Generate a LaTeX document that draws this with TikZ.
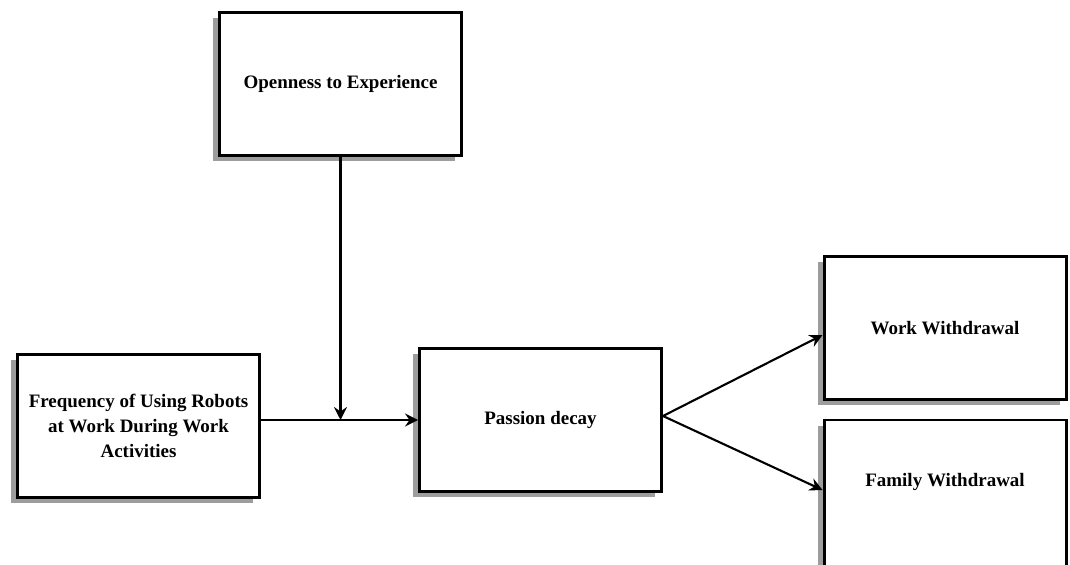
\documentclass[tikz,border=0pt]{standalone}
\usepackage{fontspec}
\setmainfont{Liberation Serif}
\usepackage{tikz}
\usetikzlibrary{arrows.meta,positioning,shadows}
\tikzset{
  varbox/.style={draw=black, fill=white, line width=1.7pt,
        minimum width=4.84cm, minimum height=2.86cm, align=center,
        font=\fontsize{10.8}{14}\selectfont\bfseries,
        drop shadow={shadow xshift=-0.13cm, shadow yshift=-0.11cm,
                     fill=black!55, opacity=0.7}},
  link/.style={-{Stealth[length=2.6mm, width=2.6mm, inset=0.9mm]},
        line width=1.2pt, draw=black}
}
\begin{document}
\begin{tikzpicture}
\useasboundingbox (0,0) rectangle (21.4,11.28);

\node[varbox] (open) at (6.81,9.60) {Openness to Experience};
\node[varbox] (freq) at (2.77,2.76) {Frequency of Using Robots\\ at Work During Work\\ Activities};
\node[varbox] (decay) at (10.81,2.88) {Passion decay};
\node[varbox] (work) at (18.90,4.72) {Work Withdrawal};
% box runs off the bottom edge
\node[varbox, minimum height=3.0cm, text depth=0.62cm] (family) at (18.90,1.38) {Family Withdrawal};

\coordinate (mod) at (open.south |- decay.west);

\draw[link] (freq.east |- decay.west) -- (decay.west);
\draw[link] (open.south) -- (mod);
\draw[link] ([yshift=0.08cm]decay.east) -- ([yshift=-0.14cm]work.west);
\draw[link] ([yshift=0.08cm]decay.east) -- ([yshift=0.1cm]family.west);
\end{tikzpicture}
\end{document}
